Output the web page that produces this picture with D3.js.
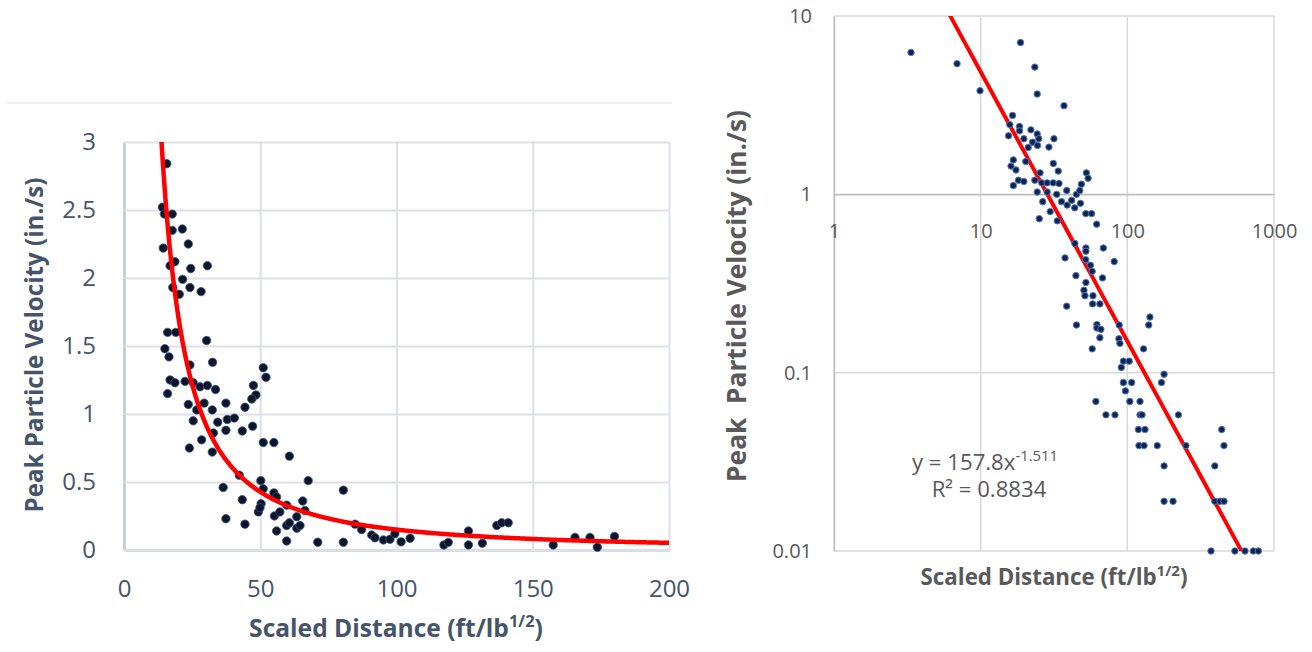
<!DOCTYPE html>
<html>
<meta charset="utf-8">
<style type="text/css">
  body { margin: 0; background: #fff; }
  text { font-family: "Open Sans", "Noto Sans", sans-serif; }
</style>
<body>
<svg width="1312" height="652"></svg>
<script src="https://d3js.org/d3.v7.min.js"></script>
<script>

// fitted trendline (shown on the right chart): y = a * x^b
const fitA = 157.8;
const fitB = -1.511;
const fitR2 = "0.8834";

// left chart, linear axes
const leftXTicks = [0, 50, 100, 150, 200];
const leftYTicks = [0, 0.5, 1, 1.5, 2, 2.5, 3];
const leftYLabels = ["0", "0.5", "1", "1.5", "2", "2.5", "3"];
const leftDist = [15.7, 14.1, 14.8, 17.7, 17.7, 21.4, 23.6, 14.4, 18.7, 16.9, 24.5, 30.6, 21.5, 17.9, 24.2, 20.3, 28.3,
  16.0, 19.0, 30.3, 15.0, 16.5, 32.5, 24.2, 51.1, 52.1, 16.9, 18.7, 16.0, 22.4, 25.4, 27.9, 30.6, 33.6, 47.5, 48.4, 46.9,
  23.6, 26.7, 29.4, 32.4, 37.4, 44.4, 25.4, 34.4, 37.9, 40.5, 37.4, 43.4, 47.2, 32.8, 28.5, 24.0, 32.4, 51.1, 55.0, 60.7,
  42.3, 36.4, 50.2, 67.6, 51.1, 55.0, 43.4, 50.3, 56.0, 59.7, 65.6, 49.3, 49.9, 55.2, 57.2, 63.4, 66.4, 37.4, 44.4, 56.0,
  59.7, 60.7, 63.4, 64.6, 59.7, 71.1, 80.5, 80.5, 84.8, 87.2, 90.9, 92.1, 95.2, 97.6, 99.4, 101.7, 105, 117.4, 119, 126.4,
  126.4, 131.5, 136.8, 138.6, 141, 157.5, 165.5, 171, 173.7, 180];
const leftPPV = [2.84, 2.52, 2.47, 2.47, 2.35, 2.36, 2.25, 2.22, 2.12, 2.09, 2.07, 2.09, 1.99, 1.93, 1.93, 1.88, 1.90,
  1.60, 1.60, 1.54, 1.48, 1.42, 1.38, 1.36, 1.34, 1.27, 1.25, 1.23, 1.15, 1.24, 1.23, 1.20, 1.21, 1.18, 1.21, 1.14, 1.11,
  1.07, 1.03, 1.08, 1.03, 1.08, 1.05, 0.95, 0.94, 0.96, 0.97, 0.88, 0.875, 0.91, 0.86, 0.81, 0.75, 0.72, 0.79, 0.79, 0.69,
  0.55, 0.46, 0.51, 0.51, 0.45, 0.42, 0.37, 0.34, 0.39, 0.33, 0.36, 0.28, 0.31, 0.25, 0.28, 0.245, 0.29, 0.23, 0.19, 0.14,
  0.18, 0.20, 0.16, 0.18, 0.066, 0.057, 0.44, 0.057, 0.19, 0.15, 0.11, 0.09, 0.074, 0.079, 0.12, 0.06, 0.086, 0.037, 0.056, 0.14,
  0.037, 0.05, 0.18, 0.2, 0.2, 0.037, 0.093, 0.093, 0.02, 0.1];

// right chart, log-log axes
const rightXTicks = [1, 10, 100, 1000];
const rightXLabels = ["1", "10", "100", "1000"];
const rightYTicks = [0.01, 0.1, 1, 10];
const rightYLabels = ["0.01", "0.1", "1", "10"];
const rightDist = [3.35, 6.9, 9.9, 18.7, 23.4, 24.3, 37, 16.5, 15.8, 18.4, 18.4, 15.5, 19.7, 22.0, 24.3, 24.9, 22.6, 21.1,
  24.4, 31.6, 29.2, 20.3, 16.7, 16.1, 17.4, 31.3, 33.8, 16.7, 18.1, 19.7, 23.4, 25.4, 26.1, 28.4, 31.2, 34.2, 24.3, 28.4,
  26.5, 33, 38.6, 35.6, 38.9, 41.7, 43.8, 47.9, 45, 47.4, 48.6, 52.6, 54, 33.3, 52.1, 57, 29.8, 25.1, 61.8, 68.6, 81.4,
  52.2, 52.2, 43.9, 37.6, 52, 56, 57.6, 67.7, 44.6, 52.2, 50.6, 51.4, 58.3, 58, 65, 38.6, 45, 62, 62, 66, 65, 57.6, 88,
  87.6, 89, 142.6, 140, 129, 94, 103, 91, 94, 107, 97, 104, 122, 61, 71.5, 82.4, 122, 126, 223, 119, 132, 120, 130, 160,
  251, 178, 171, 440, 456, 178, 395, 178, 205, 395, 428, 456, 372, 541, 634, 723, 782];
const rightPPV = [6.25, 5.4, 3.81, 7.1, 5.17, 3.65, 3.14, 2.77, 2.46, 2.40, 2.27, 2.13, 2.05, 2.30, 2.18, 2.05, 1.96, 1.83,
  1.88, 2.05, 1.84, 1.53, 1.56, 1.44, 1.37, 1.49, 1.35, 1.12, 1.20, 1.18, 1.20, 1.32, 1.16, 1.16, 1.16, 1.15, 1.03, 1.03,
  0.91, 1.0, 1.05, 0.91, 0.87, 0.925, 0.84, 0.89, 1.0, 1.05, 1.14, 1.32, 1.23, 0.71, 0.78, 0.78, 0.80, 0.73, 0.68, 0.50, 0.42,
  0.50, 0.48, 0.53, 0.44, 0.43, 0.40, 0.37, 0.34, 0.35, 0.32, 0.29, 0.27, 0.27, 0.243, 0.243, 0.236, 0.185, 0.186, 0.178, 0.175, 0.157, 0.136, 0.185,
  0.155, 0.146, 0.205, 0.185, 0.136, 0.116, 0.116, 0.107, 0.088, 0.088, 0.079, 0.069, 0.069, 0.069, 0.058, 0.058, 0.058, 0.058, 0.058, 0.048, 0.048, 0.039, 0.039, 0.039,
  0.039, 0.098, 0.088, 0.048, 0.039, 0.030, 0.030, 0.019, 0.019, 0.019, 0.019, 0.019, 0.01, 0.01, 0.01, 0.01, 0.01];

const svg = d3.select("svg");
const fit = x => fitA * Math.pow(x, fitB);

// scale a text's font size so it spans the width it has in the picture
function fitWidth(sel, width) {
  const fs = parseFloat(sel.style("font-size"));
  const len = sel.node().getComputedTextLength();
  sel.style("font-size", (fs * width / len).toFixed(2) + "px");
  return sel;
}

// text with a superscript part: main, sup, tail
function supText(g, x, y, main, sup, tail) {
  const t = g.append("text").attr("x", x).attr("y", y).attr("text-anchor", "middle");
  t.append("tspan").text(main);
  t.append("tspan").attr("dy", "-0.6em").style("font-size", "0.67em").text(sup);
  if (tail) t.append("tspan").attr("dy", "0.4em").text(tail);
  return t;
}

// ---------------- left chart ----------------
const xL = d3.scaleLinear().domain([0, 200]).range([124, 669]);
const yL = d3.scaleLinear().domain([0, 3]).range([550, 142]);
const slate = "#44546a";

// faint chart border line on top
svg.append("line")
  .attr("x1", 7).attr("x2", 672).attr("y1", 103).attr("y2", 103)
  .attr("stroke", "#ebebeb").attr("stroke-width", 1.5);

const gL = svg.append("g");

gL.append("g")
  .attr("transform", "translate(0,550)")
  .call(d3.axisBottom(xL).tickValues(leftXTicks).tickSize(-408).tickSizeOuter(0).tickPadding(30))
  .call(g => g.select(".domain").attr("stroke", "#c3c9d4").attr("stroke-width", 2.5))
  .call(g => g.selectAll(".tick line").attr("stroke", "#dde0e6").attr("stroke-width", 2))
  .call(g => g.selectAll(".tick text").attr("fill", slate).style("font-size", "24px"));

gL.append("g")
  .attr("transform", "translate(124,0)")
  .call(d3.axisLeft(yL).tickValues(leftYTicks).tickFormat((d, i) => leftYLabels[i]).tickSize(-545).tickSizeOuter(0).tickPadding(28))
  .call(g => g.select(".domain").attr("stroke", "#c3c9d4").attr("stroke-width", 2.5))
  .call(g => g.selectAll(".tick text").attr("fill", slate).style("font-size", "24px"))
  .call(g => g.selectAll(".tick line").attr("stroke", "#dde0e6").attr("stroke-width", 2));

svg.append("clipPath").attr("id", "clipL")
  .append("rect").attr("x", 124).attr("y", 142).attr("width", 545).attr("height", 408);

const leftPts = leftDist.map((d, i) => ({x: d, y: leftPPV[i]}));
gL.append("g").selectAll("circle").data(leftPts).enter().append("circle")
  .attr("cx", d => xL(d.x))
  .attr("cy", d => yL(d.y))
  .attr("r", 4.2)
  .attr("fill", "#0c1628")
  .attr("stroke", "#36568a")
  .attr("stroke-width", 0.8);

const curveL = d3.range(10, 200.5, 0.5).map(x => ({x: x, y: fit(x)}));
gL.append("path")
  .datum(curveL)
  .attr("clip-path", "url(#clipL)")
  .attr("fill", "none")
  .attr("stroke", "#ff0000")
  .attr("stroke-width", 4.5)
  .attr("d", d3.line().x(d => xL(d.x)).y(d => yL(d.y)));

const ytL = gL.append("text")
  .attr("transform", "translate(43,345) rotate(-90)")
  .attr("text-anchor", "middle")
  .attr("fill", slate)
  .style("font-size", "22px").style("font-weight", "bold")
  .text("Peak Particle Velocity (in./s)");
fitWidth(ytL, 335);

const xtL = supText(gL, 396, 637, "Scaled Distance (ft/lb", "1/2", ")")
  .attr("fill", slate)
  .style("font-size", "24px").style("font-weight", "bold");
fitWidth(xtL, 294);

// ---------------- right chart ----------------
const xR = d3.scaleLog().domain([1, 1000]).range([834, 1274]);
const yR = d3.scaleLog().domain([0.01, 10]).range([551, 16]);
const grey = "#595959";

const gR = svg.append("g");

// grid
gR.append("g").selectAll("line").data(rightXTicks).enter().append("line")
  .attr("x1", d => xR(d)).attr("x2", d => xR(d))
  .attr("y1", yR(10)).attr("y2", yR(0.01))
  .attr("stroke", "#d9d9d9").attr("stroke-width", 1.5);
gR.append("g").selectAll("line").data(rightYTicks).enter().append("line")
  .attr("x1", xR(1)).attr("x2", xR(1000))
  .attr("y1", d => yR(d)).attr("y2", d => yR(d))
  .attr("stroke", "#d9d9d9").attr("stroke-width", 1.5);

// y axis on the left, x axis crossing at y = 1
gR.append("g")
  .attr("transform", "translate(834,0)")
  .call(d3.axisLeft(yR).tickValues(rightYTicks).tickFormat((d, i) => rightYLabels[i]).tickSize(0).tickPadding(22))
  .call(g => g.select(".domain").attr("stroke", "#bfbfbf").attr("stroke-width", 1.5))
  .call(g => g.selectAll(".tick text").attr("fill", grey).style("font-size", "20px"));

gR.append("g")
  .attr("transform", "translate(0," + yR(1) + ")")
  .call(d3.axisBottom(xR).tickValues(rightXTicks).tickFormat((d, i) => rightXLabels[i]).tickSize(0).tickPadding(29))
  .call(g => g.select(".domain").attr("stroke", "#bfbfbf").attr("stroke-width", 1.5))
  .call(g => g.selectAll(".tick text").attr("fill", grey).style("font-size", "20px"));

svg.append("clipPath").attr("id", "clipR")
  .append("rect").attr("x", 834).attr("y", 16).attr("width", 440).attr("height", 535);

const curveR = d3.range(0, 3.001, 0.05).map(e => ({x: Math.pow(10, e), y: fit(Math.pow(10, e))}));
gR.append("path")
  .datum(curveR)
  .attr("clip-path", "url(#clipR)")
  .attr("fill", "none")
  .attr("stroke", "#ff0000")
  .attr("stroke-width", 4)
  .attr("d", d3.line().x(d => xR(d.x)).y(d => yR(d.y)));

const rightPts = rightDist.map((d, i) => ({x: d, y: rightPPV[i]}));
gR.append("g").selectAll("circle").data(rightPts).enter().append("circle")
  .attr("cx", d => xR(d.x))
  .attr("cy", d => yR(d.y))
  .attr("r", 3.2)
  .attr("fill", "#13244a")
  .attr("stroke", "#4a78c8")
  .attr("stroke-width", 1);

// equation, both lines in the same size
const eq = supText(gR, 985, 470, "y = " + fitA + "x", String(fitB), null)
  .attr("fill", grey)
  .style("font-size", "21px");
fitWidth(eq, 146);
gR.append("text")
  .attr("x", 989).attr("y", 497)
  .attr("text-anchor", "middle")
  .attr("fill", grey)
  .style("font-size", eq.style("font-size"))
  .text("R\u00b2 = " + fitR2);

const ytR = gR.append("text")
  .attr("transform", "translate(746,296) rotate(-90)")
  .attr("text-anchor", "middle")
  .attr("fill", grey)
  .style("font-size", "22px").style("font-weight", "bold").style("white-space", "pre")
  .text("Peak  Particle Velocity (in./s)");
fitWidth(ytR, 372);

const xtR = supText(gR, 1054, 585, "Scaled Distance (ft/lb", "1/2", ")")
  .attr("fill", grey)
  .style("font-size", "22px").style("font-weight", "bold");
fitWidth(xtR, 267);

</script>
</body>
</html>
